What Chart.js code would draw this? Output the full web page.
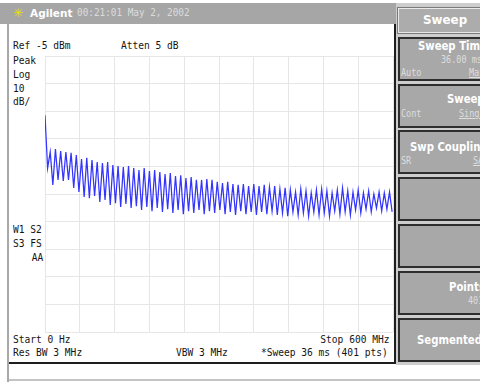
<!DOCTYPE html>
<html lang="en">
<head>
  <meta charset="UTF-8" />
  <title>Sweep - 0 to 600 MHz</title>
  <script src="https://cdn.jsdelivr.net/npm/chart.js"></script>
  <style>
    html, body {
      margin: 0;
      width: 480px;
      height: 382px;
      overflow: hidden;
      background: #fff;
      position: relative;
      font-family: 'DejaVu Sans Mono', monospace;
    }
    .titlebar {
      position: absolute; left: 0; top: 3px; width: 397px; height: 21px;
      background: #a6a6a6;
    }
    .leftline { position: absolute; left: 7px; top: 24px; width: 2px; height: 358px; background: #a8a8a8; }
    .screen {
      position: absolute; left: 9px; top: 24px; width: 385px; height: 338px;
      background: #fff;
      border-right: 2px solid #1e1e1e;
      border-bottom: 2px solid #1e1e1e;
    }
    .bottomline { position: absolute; left: 9px; top: 379px; width: 471px; height: 2px; background: #c4c4c4; }
    .keys { position: absolute; left: 396px; top: 3px; width: 84px; height: 362px; background: #cdcdcd; }
    .key {
      position: absolute; left: 398px; width: 86px; height: 40px;
      background: #a8a8a8; border: 2px solid #2e2e2e;
    }
    .key.head { top: 8px; height: 23px; border: 1px solid #e8e8e8; outline: 1px solid #7a7a7a; background: #acacac; }
    .t {
      position: absolute; font-size: 11px; line-height: 12px; color: #141414;
      white-space: pre; transform: scaleX(0.87); transform-origin: left center;
    }
    .t.r { transform-origin: right center; }
    .k {
      position: absolute; font-family: 'DejaVu Sans', sans-serif; font-weight: bold;
      font-size: 11.5px; line-height: 14px; color: #fff; white-space: pre;
      transform: scaleX(0.88); transform-origin: left center;
    }
    .s {
      position: absolute; font-size: 10px; line-height: 12px; color: #dedede;
      white-space: pre; transform: scaleX(0.85); transform-origin: left center;
    }
    .u { text-decoration: underline; }
    #trace { position: absolute; left: 40px; top: 50px; }
  </style>
</head>
<body>
  <div class="titlebar"></div>
  <div class="leftline"></div>
  <div class="screen"></div>
  <div class="bottomline"></div>
  <div class="keys"></div>

  <!-- title bar -->
  <div class="k" style="left:13px;top:6px;color:#e8e000;font-weight:normal;font-size:12px;transform:none;">✳</div>
  <div class="k" style="left:30px;top:6px;font-size:10.5px;transform:none;">Agilent</div>
  <div class="s" style="left:77px;top:7px;font-size:11px;color:#dcdcdc;">00:21:01 May 2, 2002</div>

  <!-- softkeys -->
  <div class="key head"></div>
  <div class="key" style="top:37px"></div>
  <div class="key" style="top:84px"></div>
  <div class="key" style="top:130px"></div>
  <div class="key" style="top:177px"></div>
  <div class="key" style="top:224px"></div>
  <div class="key" style="top:271px"></div>
  <div class="key" style="top:318px"></div>

  <div class="k" style="left:423px;top:13px;font-size:12.5px;transform:scaleX(0.95);">Sweep</div>
  <div class="k" style="left:418px;top:39px;">Sweep Time</div>
  <div class="s" style="left:441px;top:54px;">36.00 ms</div>
  <div class="s" style="left:401px;top:67px;">Auto</div>
  <div class="s u" style="left:469px;top:67px;">Man</div>
  <div class="k" style="left:447px;top:92px;">Sweep</div>
  <div class="s" style="left:401px;top:108px;">Cont</div>
  <div class="s u" style="left:459px;top:108px;">Single</div>
  <div class="k" style="left:410px;top:140px;">Swp Coupling</div>
  <div class="s" style="left:401px;top:155px;">SR</div>
  <div class="s u" style="left:473px;top:155px;">SA</div>
  <div class="k" style="left:449px;top:280px;">Points</div>
  <div class="s" style="left:468px;top:295px;">401</div>
  <div class="k" style="left:417px;top:333px;">Segmented</div>

  <!-- annotations around the graticule -->
  <div class="t" style="left:13px;top:40px;">Ref -5 dBm</div>
  <div class="t" style="left:121px;top:40px;">Atten 5 dB</div>
  <div class="t" style="left:13px;top:55px;">Peak</div>
  <div class="t" style="left:13px;top:69px;">Log</div>
  <div class="t" style="left:13px;top:83px;">10</div>
  <div class="t" style="left:13px;top:96px;">dB/</div>
  <div class="t" style="left:13px;top:224px;">W1 S2</div>
  <div class="t" style="left:13px;top:238px;">S3 FS</div>
  <div class="t r" style="right:437px;top:252px;">AA</div>
  <div class="t" style="left:13px;top:334px;">Start 0 Hz</div>
  <div class="t" style="left:13px;top:347px;">Res BW 3 MHz</div>
  <div class="t" style="left:176px;top:347px;">VBW 3 MHz</div>
  <div class="t r" style="right:91px;top:334px;">Stop 600 MHz</div>
  <div class="t r" style="right:92px;top:347px;">*Sweep 36 ms (401 pts)</div>

  <canvas id="trace" width="360" height="290"></canvas>

  <script>
    // sweep setup
    const startMHz = 0;
    const stopMHz = 600;
    const stepMHz = 4.5;
    const refLevel = -5;
    const dbPerDiv = 10;
    const divisions = 10;

    // trace level at 0 Hz (LO feedthrough), then alternating minima / maxima in dBm
    const startLevel = -26.5;
    const troughs = [
      -45.6, -51.7, -49.9, -50.3, -49.9, -52.8, -54.3, -56.1, -56.5, -55.7,
      -57.9, -57.2, -59.0, -58.3, -59.7, -58.6, -60.1, -59.4, -60.8, -59.7,
      -61.2, -60.1, -61.5, -60.5, -61.9, -60.8, -62.3, -61.2, -61.9, -60.8,
      -62.3, -61.2, -61.9, -60.8, -62.3, -61.5, -62.6, -61.2, -62.3, -61.5,
      -62.6, -61.5, -62.3, -61.2, -62.6, -61.9, -63.0, -61.5, -62.6, -61.9,
      -63.0, -61.5, -62.6, -61.9, -63.0, -61.2, -62.3, -61.5, -62.6, -60.8,
      -61.9, -60.5, -61.5, -60.1, -61.2, -60.5, -61.5
    ];
    const peaks = [
      -39.8, -38.7, -39.4, -39.8, -40.1, -40.9, -42.3, -41.9, -42.7, -43.4,
      -43.8, -43.4, -44.5, -44.9, -45.2, -44.9, -45.6, -46.3, -45.6, -46.7,
      -46.3, -47.0, -47.8, -47.4, -48.5, -48.2, -49.2, -48.9, -49.9, -49.9,
      -49.6, -49.9, -50.6, -51.0, -50.6, -51.4, -51.7, -51.4, -52.1, -51.4,
      -52.1, -51.7, -52.5, -52.1, -53.2, -52.8, -53.5, -54.3, -53.2, -53.9,
      -54.6, -53.5, -53.2, -53.9, -54.6, -53.5, -52.8, -53.9, -54.3, -53.5,
      -54.6, -53.9, -55.0, -54.3, -54.6, -54.3
    ];

    const levels = [startLevel];
    troughs.forEach((t, i) => {
      levels.push(t);
      if (i < peaks.length) levels.push(peaks[i]);
    });
    const points = levels.map((v, i) => ({ x: startMHz + i * stepMHz, y: v }));

    const gridColor = '#e6e6e6';
    new Chart(document.getElementById('trace'), {
      type: 'line',
      data: {
        datasets: [{
          data: points,
          borderColor: '#3434ff',
          borderWidth: 1.25,
          pointRadius: 0,
          tension: 0
        }]
      },
      options: {
        responsive: false,
        animation: false,
        layout: { padding: { left: 5, top: 6, right: 7, bottom: 8 } },
        plugins: { legend: { display: false }, tooltip: { enabled: false } },
        scales: {
          x: {
            type: 'linear',
            min: startMHz,
            max: stopMHz,
            ticks: { display: false, stepSize: (stopMHz - startMHz) / divisions },
            grid: { color: gridColor, drawTicks: false },
            border: { display: false }
          },
          y: {
            min: refLevel - dbPerDiv * divisions,
            max: refLevel,
            ticks: { display: false, stepSize: dbPerDiv },
            grid: { color: gridColor, drawTicks: false },
            border: { display: false }
          }
        }
      }
    });
  </script>
</body>
</html>
